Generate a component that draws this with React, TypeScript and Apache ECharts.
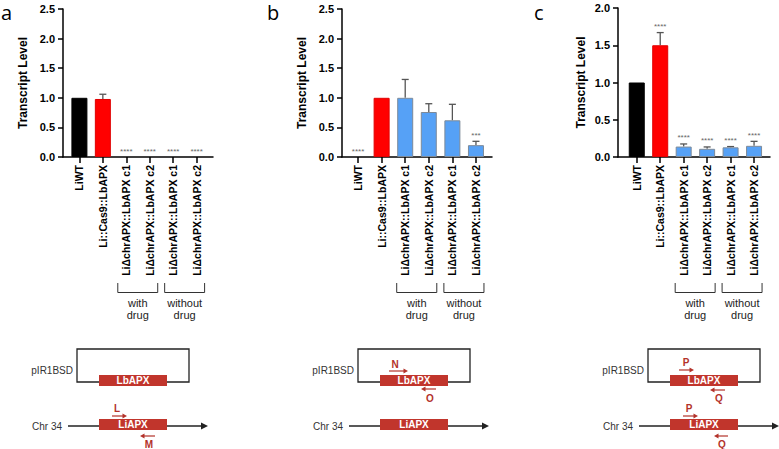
import React, { useEffect, useRef } from 'react';
import * as echarts from 'echarts';

// ---------------- DATA ----------------
const categories = [
  'LiWT',
  'Li::Cas9::LbAPX',
  'LiΔchrAPX::LbAPX c1',
  'LiΔchrAPX::LbAPX c2',
  'LiΔchrAPX::LbAPX c1',
  'LiΔchrAPX::LbAPX c2',
];
const panelLetters = ['a', 'b', 'c'];
const yAxisName = 'Transcript Level';
const yMaxA = 2.5;
const yMaxB = 2.5;
const yMaxC = 2.0;
const yInterval = 0.5;

const meanA = [1.0, 0.98, 0, 0, 0, 0];
const errTopA = [null, 1.06, null, null, null, null];
const sigA = ['', '', '****', '****', '****', '****'];

const meanB = [0, 1.0, 1.0, 0.76, 0.62, 0.2];
const errTopB = [null, null, 1.31, 0.9, 0.89, 0.265];
const sigB = ['****', '', '', '', '', '***'];

const meanC = [1.0, 1.5, 0.14, 0.11, 0.13, 0.15];
const errTopC = [null, 1.67, 0.175, 0.135, 0.14, 0.21];
const sigC = ['', '****', '****', '****', '****', '****'];

const groupLabels = ['with\ndrug', 'without\ndrug'];
const groupMembers = [[2, 3], [4, 5]];

const plasmidName = 'pIR1BSD';
const chrName = 'Chr 34';
const plasmidGene = 'LbAPX';
const chrGene = 'LiAPX';
const primerLabelsA = ['L', 'M'];
const primerLabelsB = ['N', 'O'];
const primerLabelsC = ['P', 'Q', 'P', 'Q'];

// ---------------- STYLE / LAYOUT ----------------
const FONT = '"Liberation Sans", Arial, sans-serif';
const barColors = ['#000000', '#FF0000', '#56A1F6', '#56A1F6', '#56A1F6', '#56A1F6'];
const barBorders = ['#000000', '#E00000', '#7d8a99', '#7d8a99', '#7d8a99', '#7d8a99'];
const RED = '#C1352C';
const PRIMER = '#B3322A';

const panels = [
  { mean: meanA, errTop: errTopA, sig: sigA, yMax: yMaxA },
  { mean: meanB, errTop: errTopB, sig: sigB, yMax: yMaxB },
  { mean: meanC, errTop: errTopC, sig: sigC, yMax: yMaxC },
];
const layouts = [
  { left: 63, top: 9, width: 150, height: 148, xMin: -0.7, xMax: 5.7, nameGap: 34, letterX: 1, dx: 0 },
  { left: 342, top: 9, width: 150, height: 148, xMin: -0.68, xMax: 5.68, nameGap: 34, letterX: 267, dx: 281 },
  { left: 618, top: 8, width: 152, height: 149, xMin: -0.8, xMax: 5.68, nameGap: 31, letterX: 534, dx: 571 },
];
// primer arrows per panel: [x1, x2, y, labelX, labelY] (x1 -> x2 is arrow direction)
const primerGeom = [
  [[112, 127, 416, 117, 408], [155, 140, 436, 149, 444]],
  [[389, 408, 371, 395, 364], [436, 421, 389, 430, 398]],
  [[679, 694, 370, 686, 362], [725, 710, 390, 719, 398], [683, 698, 416, 689, 408], [728, 714, 436, 722, 444]],
];
const primerLabels = [primerLabelsA, primerLabelsB, primerLabelsC];

function buildOption(): any {
  const grid: any[] = [];
  const xAxis: any[] = [];
  const yAxis: any[] = [];
  const series: any[] = [];
  panels.forEach((p, i) => {
    const L = layouts[i];
    grid.push({ left: L.left, top: L.top, width: L.width, height: L.height });
    xAxis.push({
      type: 'value',
      gridIndex: i,
      min: L.xMin,
      max: L.xMax,
      splitLine: { show: false },
      axisLine: { show: true, onZero: false, lineStyle: { color: '#000', width: 1.5 } },
      axisTick: { show: true, length: 6, customValues: [0, 1, 2, 3, 4, 5], lineStyle: { color: '#000', width: 1.5 } },
      axisLabel: {
        customValues: [0, 1, 2, 3, 4, 5],
        rotate: 90,
        margin: 8,
        color: '#000',
        fontWeight: 'bold',
        fontSize: 10.5,
        fontFamily: FONT,
        formatter: (v: number) => categories[Math.round(v)] ?? '',
      },
    });
    yAxis.push({
      type: 'value',
      gridIndex: i,
      min: 0,
      max: p.yMax,
      interval: yInterval,
      name: yAxisName,
      nameLocation: 'middle',
      nameGap: L.nameGap,
      nameTextStyle: { fontWeight: 'bold', fontSize: 12, fontFamily: FONT, color: '#000' },
      splitLine: { show: false },
      axisLine: { show: true, onZero: false, lineStyle: { color: '#000', width: 1.5 } },
      axisTick: { show: true, length: 5, lineStyle: { color: '#000', width: 1.5 } },
      axisLabel: {
        margin: 8,
        color: '#000',
        fontWeight: 'bold',
        fontSize: 11,
        fontFamily: FONT,
        formatter: (v: number) => v.toFixed(1),
      },
    });
    series.push({
      type: 'bar',
      xAxisIndex: i,
      yAxisIndex: i,
      barWidth: 16,
      data: p.mean.map((v, k) => ({
        value: [k, v],
        itemStyle: {
          color: barColors[k],
          borderColor: barBorders[k],
          borderWidth: v > 0 ? 1 : 0,
        },
      })),
    });
    series.push({
      type: 'custom',
      xAxisIndex: i,
      yAxisIndex: i,
      data: p.mean.map((v, k) => [k, v]),
      renderItem: (params: any, api: any) => {
        const k = params.dataIndex;
        const x = api.value(0);
        const m = api.value(1);
        const et = p.errTop[k];
        const base = api.coord([x, m]);
        const children: any[] = [];
        let topY = base[1];
        if (et != null) {
          const t = api.coord([x, et]);
          topY = t[1];
          children.push({
            type: 'line',
            shape: { x1: base[0], y1: base[1], x2: t[0], y2: t[1] },
            style: { stroke: '#555', lineWidth: 1.3 },
          });
          children.push({
            type: 'line',
            shape: { x1: t[0] - 3.5, y1: t[1], x2: t[0] + 3.5, y2: t[1] },
            style: { stroke: '#555', lineWidth: 1.3 },
          });
        }
        if (p.sig[k]) {
          children.push({
            type: 'text',
            x: base[0],
            y: topY - 2,
            style: {
              text: p.sig[k],
              fill: '#666',
              fontSize: 8,
              fontFamily: FONT,
              align: 'center',
              verticalAlign: 'bottom',
              textAlign: 'center',
              textVerticalAlign: 'bottom',
            },
          });
        }
        return { type: 'group', children };
      },
    });
  });
  return { animation: false, grid, xAxis, yAxis, series };
}

function arrow(x1: number, x2: number, y: number, color: string): any[] {
  const dir = x2 > x1 ? 1 : -1;
  return [
    { type: 'line', shape: { x1, y1: y, x2: x2 - dir * 3, y2: y }, style: { stroke: color, lineWidth: 1.2 } },
    {
      type: 'polygon',
      shape: { points: [[x2, y], [x2 - dir * 4.5, y - 2.5], [x2 - dir * 4.5, y + 2.5]] },
      style: { fill: color },
    },
  ];
}

function buildGraphics(chart: any): any[] {
  const g: any[] = [];
  panels.forEach((p, i) => {
    const L = layouts[i];
    const dx = L.dx;
    // panel letter
    g.push({
      type: 'text',
      x: L.letterX,
      y: 2,
      style: { text: panelLetters[i], fontSize: 20, fontFamily: '"Open Sans", sans-serif', fill: '#000', verticalAlign: 'top', textVerticalAlign: 'top' },
    });
    // group brackets
    groupMembers.forEach((mem, gi) => {
      const xa = chart.convertToPixel({ xAxisIndex: i }, mem[0]) - 8.5;
      const xb = chart.convertToPixel({ xAxisIndex: i }, mem[1]) + 8;
      g.push({
        type: 'polyline',
        shape: { points: [[xa, 283], [xa, 292.5], [xb, 292.5], [xb, 283]] },
        style: { stroke: '#333', lineWidth: 1, fill: 'none' },
      });
      g.push({
        type: 'text',
        x: (xa + xb) / 2,
        y: 297,
        style: {
          text: groupLabels[gi],
          fontSize: 11,
          lineHeight: 12,
          fontFamily: FONT,
          fill: '#222',
          align: 'center',
          verticalAlign: 'top',
          textAlign: 'center',
          textVerticalAlign: 'top',
        },
      });
    });
    // plasmid diagram
    g.push({ type: 'rect', shape: { x: 77 + dx, y: 349, width: 112, height: 33 }, style: { fill: 'none', stroke: '#222', lineWidth: 1.3 } });
    g.push({ type: 'text', x: 73 + dx, y: 370, style: { text: plasmidName, fontSize: 10, fontFamily: FONT, fill: '#333', align: 'right', verticalAlign: 'middle', textAlign: 'right', textVerticalAlign: 'middle' } });
    g.push({ type: 'rect', shape: { x: 99 + dx, y: 375, width: 68, height: 11 }, style: { fill: RED } });
    g.push({ type: 'text', x: 133 + dx, y: 380.5, style: { text: plasmidGene, fontSize: 10, fontWeight: 'bold', fontFamily: FONT, fill: '#fff', align: 'center', verticalAlign: 'middle', textAlign: 'center', textVerticalAlign: 'middle' } });
    // chromosome
    g.push({ type: 'line', shape: { x1: 68 + dx, y1: 426, x2: 203 + dx, y2: 426 }, style: { stroke: '#222', lineWidth: 1.3 } });
    g.push({ type: 'polygon', shape: { points: [[201 + dx, 422.5], [208 + dx, 426], [201 + dx, 429.5]] }, style: { fill: '#222' } });
    g.push({ type: 'text', x: 62 + dx, y: 426, style: { text: chrName, fontSize: 10, fontFamily: FONT, fill: '#333', align: 'right', verticalAlign: 'middle', textAlign: 'right', textVerticalAlign: 'middle' } });
    g.push({ type: 'rect', shape: { x: 99 + dx, y: 419, width: 68, height: 11 }, style: { fill: RED } });
    g.push({ type: 'text', x: 133 + dx, y: 424.5, style: { text: chrGene, fontSize: 10, fontWeight: 'bold', fontFamily: FONT, fill: '#fff', align: 'center', verticalAlign: 'middle', textAlign: 'center', textVerticalAlign: 'middle' } });
    // primers
    primerGeom[i].forEach((pg, pi) => {
      const [x1, x2, y, lx, ly] = pg;
      arrow(x1, x2, y, PRIMER).forEach((e) => g.push(e));
      g.push({ type: 'text', x: lx, y: ly, style: { text: primerLabels[i][pi], fontSize: 10, fontWeight: 'bold', fontFamily: FONT, fill: PRIMER, align: 'center', verticalAlign: 'middle', textAlign: 'center', textVerticalAlign: 'middle' } });
    });
  });
  return g;
}

export default function App() {
  const ref = useRef<HTMLDivElement>(null);
  useEffect(() => {
    if (!ref.current) return;
    const chart = echarts.init(ref.current, null, { renderer: 'svg' });
    chart.setOption(buildOption());
    chart.setOption({ graphic: buildGraphics(chart) });
    return () => chart.dispose();
  }, []);
  return (
    <div
      ref={ref}
      style={{ position: 'absolute', left: 0, top: 0, width: 779, height: 449, background: '#fff' }}
    />
  );
}
